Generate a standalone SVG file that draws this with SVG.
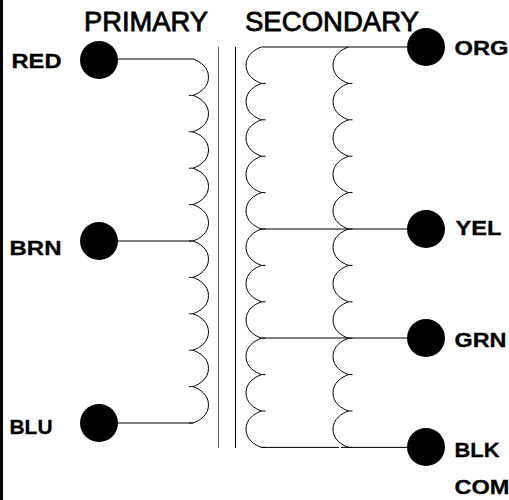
<svg xmlns="http://www.w3.org/2000/svg" width="509" height="500" viewBox="0 0 509 500">
<style>
.h{font-family:"Liberation Sans",Arial,sans-serif;font-size:27px;fill:#000;stroke:#000;stroke-width:.8}
.l{font-family:"Liberation Sans",Arial,sans-serif;font-size:21px;fill:#000;font-weight:bold;stroke:#000;stroke-width:.3}
.w{fill:none;stroke:#000;stroke-width:1}
.d{fill:#000}
</style>
<defs>
<path id="rc" d="M0 0C7 2.500 15.500 8 15.500 18.200C15.500 28.400 7 33.900 0 36.400L-1.500 36.400H-4M0 36.400"/>
<path id="lc" d="M0 0C-7 2.500 -15.500 8 -15.500 18.200C-15.500 28.400 -7 33.900 0 36.400L1.500 36.400H4M0 36.400"/>
</defs>
<rect width="509" height="500" fill="#fff"/>
<rect x="0" y="0" width="3" height="500" fill="#000"/>
<text class="h" x="84" y="31" textLength="124" lengthAdjust="spacingAndGlyphs">PRIMARY</text>
<text class="h" x="245" y="31" textLength="174" lengthAdjust="spacingAndGlyphs">SECONDARY</text>
<g id="connectors">
<path class="w" d="M118 59H193M118 241H193M118 423H193"/>
<g class="w">
<use href="#rc" x="193" y="59"/><use href="#rc" x="193" y="95.400"/><use href="#rc" x="193" y="131.800"/><use href="#rc" x="193" y="168.200"/><use href="#rc" x="193" y="204.600"/><use href="#rc" x="193" y="241"/><use href="#rc" x="193" y="277.400"/><use href="#rc" x="193" y="313.800"/><use href="#rc" x="193" y="350.200"/><use href="#rc" x="193" y="386.600"/>
</g>
<path class="w" stroke-opacity=".6" d="M218.500 47V448"/>
<path class="w" d="M235.500 47V448"/>
<g class="w">
<use href="#lc" x="261.500" y="47"/><use href="#lc" x="261.500" y="83.400"/><use href="#lc" x="261.500" y="119.800"/><use href="#lc" x="261.500" y="156.200"/><use href="#lc" x="261.500" y="192.600"/><use href="#lc" x="261.500" y="229"/><use href="#lc" x="261.500" y="265.400"/><use href="#lc" x="261.500" y="301.800"/><use href="#lc" x="261.500" y="338.200"/><use href="#lc" x="261.500" y="374.600"/><use href="#lc" x="261.500" y="411"/>
<use href="#lc" x="348.500" y="47"/><use href="#lc" x="348.500" y="83.400"/><use href="#lc" x="348.500" y="119.800"/><use href="#lc" x="348.500" y="156.200"/><use href="#lc" x="348.500" y="192.600"/><use href="#lc" x="348.500" y="229"/><use href="#lc" x="348.500" y="265.400"/><use href="#lc" x="348.500" y="301.800"/><use href="#lc" x="348.500" y="338.200"/><use href="#lc" x="348.500" y="374.600"/><use href="#lc" x="348.500" y="411"/>
</g>
<path class="w" d="M261.500 47H407M261.500 229H407M261.500 338H407M261.500 447.400H339M341 447.400H407"/>
</g>
<g id="red"><circle class="d" cx="99" cy="60" r="19"/><text class="l" x="11.500" y="68" textLength="50" lengthAdjust="spacingAndGlyphs">RED</text></g>
<g id="brn"><circle class="d" cx="99" cy="241" r="19"/><text class="l" x="9.500" y="255" textLength="52" lengthAdjust="spacingAndGlyphs">BRN</text></g>
<g id="blu"><circle class="d" cx="99" cy="423" r="19"/><text class="l" x="9.500" y="434" textLength="43" lengthAdjust="spacingAndGlyphs">BLU</text></g>
<g id="org"><circle class="d" cx="426" cy="47" r="19"/><text class="l" x="454.500" y="55" textLength="54" lengthAdjust="spacingAndGlyphs">ORG</text></g>
<g id="yel"><circle class="d" cx="426" cy="229" r="19"/><text class="l" x="455.500" y="235" textLength="46" lengthAdjust="spacingAndGlyphs">YEL</text></g>
<g id="grn"><circle class="d" cx="426" cy="338" r="19"/><text class="l" x="454.500" y="347" textLength="52" lengthAdjust="spacingAndGlyphs">GRN</text></g>
<g id="blk"><circle class="d" cx="426" cy="447" r="19"/><text class="l" x="454.500" y="457" textLength="45" lengthAdjust="spacingAndGlyphs">BLK</text></g>
<g id="com"><text class="l" x="454.500" y="494" textLength="55" lengthAdjust="spacingAndGlyphs">COM</text></g>
</svg>
